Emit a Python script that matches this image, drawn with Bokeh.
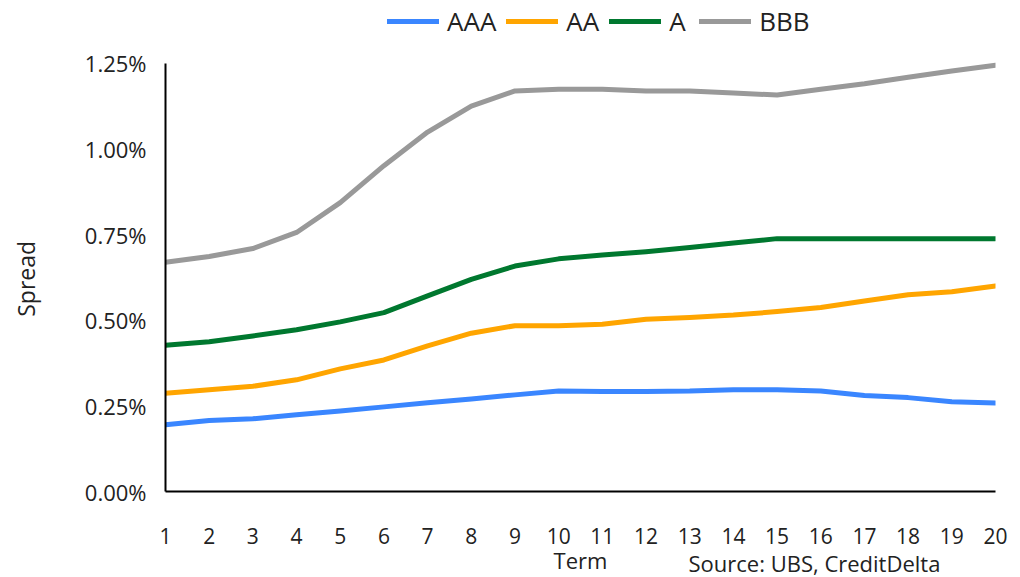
from bokeh.plotting import figure
from bokeh.models import FixedTicker, PrintfTickFormatter, Legend, LegendItem, Title
from bokeh.embed import file_html
from bokeh.resources import INLINE

terms = list(range(1, 21))
aaa = [0.195, 0.207, 0.212, 0.224, 0.235, 0.247, 0.259, 0.270, 0.282, 0.293,
       0.292, 0.292, 0.293, 0.297, 0.297, 0.293, 0.280, 0.274, 0.262, 0.258]
aa = [0.287, 0.297, 0.307, 0.326, 0.358, 0.384, 0.425, 0.462, 0.484, 0.484,
      0.488, 0.503, 0.508, 0.515, 0.525, 0.537, 0.556, 0.574, 0.583, 0.600]
a = [0.427, 0.437, 0.454, 0.472, 0.495, 0.522, 0.571, 0.619, 0.658, 0.679,
     0.690, 0.700, 0.712, 0.725, 0.738, 0.738, 0.738, 0.738, 0.738, 0.738]
bbb = [0.669, 0.686, 0.709, 0.756, 0.843, 0.951, 1.049, 1.125, 1.169, 1.174,
       1.174, 1.169, 1.169, 1.163, 1.157, 1.174, 1.190, 1.209, 1.227, 1.244]
series_names = ["AAA", "AA", "A", "BBB"]
colors = ["#3A86FF", "#FFA500", "#00782F", "#999999"]
y_ticks = [0, 0.25, 0.5, 0.75, 1.0, 1.25]

FONT = "Open Sans"

p = figure(width=1020, height=577, output_backend="svg", toolbar_location=None,
           x_range=(1, 20), y_range=(0, 1.433),
           min_border_left=165, min_border_right=25, min_border_top=0, min_border_bottom=84)
p.outline_line_color = None
p.xgrid.grid_line_color = None
p.ygrid.grid_line_color = None

items = []
for name, ys, c in zip(series_names, [aaa, aa, a, bbb], colors):
    r = p.line(terms, ys, line_color=c, line_width=5, line_cap="round", line_join="round")
    items.append(LegendItem(label=name, renderers=[r]))

for ax in (p.xaxis[0], p.yaxis[0]):
    ax.axis_line_color = "black"
    ax.axis_line_width = 2
    ax.major_tick_line_color = None
    ax.minor_tick_line_color = None
    ax.major_label_text_font = FONT
    ax.major_label_text_color = "#222222"
    ax.axis_label_text_font = FONT
    ax.axis_label_text_font_style = "normal"
    ax.axis_label_text_color = "#222222"

p.xaxis.ticker = FixedTicker(ticks=terms)
p.xaxis.major_label_text_font_size = "21px"
p.xaxis.major_label_standoff = 30
p.xaxis.axis_label = "Term"
p.xaxis.axis_label_text_font_size = "22px"
p.xaxis.axis_label_standoff = -2

p.yaxis.ticker = FixedTicker(ticks=y_ticks)
p.yaxis.bounds = (0, 1.25)
p.yaxis.formatter = PrintfTickFormatter(format="%.2f%%")
p.yaxis.major_label_text_font_size = "22px"
p.yaxis.major_label_standoff = 13
p.yaxis.axis_label = "Spread" + "\u00a0" * 11
p.yaxis.axis_label_text_font_size = "23px"
p.yaxis.axis_label_standoff = 40

src = Title(text="Source: UBS, CreditDelta", align="left", vertical_align="top",
            offset=523, standoff=-60,
            text_font=FONT, text_font_size="22px", text_font_style="normal",
            text_color="#222222")
p.add_layout(src, "below")

legend = Legend(items=items, orientation="horizontal", location=(222, 452),
                glyph_width=52, glyph_height=30, label_standoff=8, spacing=10,
                padding=0, margin=0, border_line_alpha=0, background_fill_alpha=0,
                label_text_font=FONT, label_text_font_size="26px", label_text_color="#222222")
p.add_layout(legend)

open("out.html", "w").write(file_html(p, INLINE))
